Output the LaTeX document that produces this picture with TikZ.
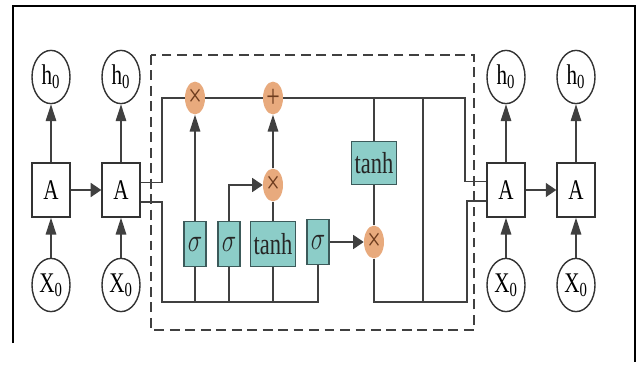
\documentclass[tikz,border=0pt]{standalone}
\usepackage{fontspec}
\setmainfont{Liberation Serif}
\usepackage{graphicx}
\usepackage{xcolor}
\usepackage{tikz}
\usetikzlibrary{shapes.geometric, arrows.meta, calc}
\definecolor{gatefill}{RGB}{140,205,200}
\definecolor{gateline}{RGB}{60,90,90}
\definecolor{opfill}{RGB}{232,170,125}
\definecolor{optext}{RGB}{110,60,30}
\newcommand{\tallt}[1]{\scalebox{1}[1.35]{#1}}
\tikzset{
  cell/.style={rectangle, draw=black!80, fill=white, line width=1pt, minimum width=0.95cm, minimum height=1.35cm, inner sep=0pt, font=\fontsize{15}{17}\selectfont},
  state/.style={ellipse, draw=black!80, line width=1pt, minimum width=0.95cm, minimum height=1.33cm, inner sep=0pt, font=\fontsize{15}{17}\selectfont},
  gate/.style={rectangle, draw=gateline, fill=gatefill, line width=1pt, minimum width=0.55cm, minimum height=1.12cm, inner sep=1pt, font=\fontsize{16}{18}\selectfont, text=black!85},
  op/.style={ellipse, fill=opfill, minimum width=0.5cm, minimum height=0.82cm, inner sep=0pt, font=\fontsize{17}{19}\selectfont, text=optext},
  wire/.style={draw=black!75, line width=1pt},
  varrow/.style={wire, -{Triangle[length=12pt,width=7.5pt]}},
  harrow/.style={wire, -{Triangle[length=7.5pt,width=10pt]}}
}

\begin{document}
\begin{tikzpicture}[x=0.025cm, y=-0.025cm]
\useasboundingbox (0,0) rectangle (638,374);
% outer frame
\draw[line width=1.4pt] (13,343) -- (13,6) -- (635,6) -- (635,362);
% dashed cell border
\draw[black!75, line width=1pt, dash pattern=on 7pt off 4pt] (151,55) rectangle (474,330);

% Columns: unrolled steps
\node[state] (h1) at (51,77) {\tallt{h\textsubscript{0}}};
\node[cell]  (A1) at (51,190) {\tallt{A}};
\node[state] (x1) at (51,285) {\tallt{X\textsubscript{0}}};
\node[state] (h2) at (121,77) {\tallt{h\textsubscript{0}}};
\node[cell]  (A2) at (121,190) {\tallt{A}};
\node[state] (x2) at (121,285) {\tallt{X\textsubscript{0}}};
\node[state] (h3) at (506,77) {\tallt{h\textsubscript{0}}};
\node[cell]  (A3) at (506,190) {\tallt{A}};
\node[state] (x3) at (506,285) {\tallt{X\textsubscript{0}}};
\node[state] (h4) at (576,77) {\tallt{h\textsubscript{0}}};
\node[cell]  (A4) at (576,190) {\tallt{A}};
\node[state] (x4) at (576,285) {\tallt{X\textsubscript{0}}};

\foreach \i in {1,2,3,4} {
  \draw[varrow] (A\i) -- (h\i);
  \draw[varrow] (x\i) -- (A\i);
}
\draw[harrow] (A1) -- (A2);
\draw[harrow] (A3) -- (A4);

% Inside the cell: gates and operations
\node[op] (mulf) at (195,98) {\tallt{×}};
\node[op] (add)  at (273,98) {\tallt{+}};
\node[op] (muli) at (273,185) {\tallt{×}};
\node[op] (mulo) at (374,242) {\tallt{×}};
\node[gate] (sg1) at (195,244) {\tallt{$\sigma$}};
\node[gate] (sg2) at (229,244) {\tallt{$\sigma$}};
\node[gate, minimum width=1.12cm] (tanhi) at (273,244) {\tallt{tanh}};
\node[gate] (sg3) at (318,242) {\tallt{$\sigma$}};
\node[gate, minimum width=1.12cm, minimum height=1.08cm] (tanho) at (374,163) {\tallt{tanh}};

% corners of the cell wiring
\coordinate (a2o1) at ($(A2.north east)!0.37!(A2.south east)$);
\coordinate (a2o2) at ($(A2.north east)!0.72!(A2.south east)$);
\coordinate (a3i1) at ($(A3.north west)!0.35!(A3.south west)$);
\coordinate (a3i2) at ($(A3.north west)!0.70!(A3.south west)$);
\coordinate (tl) at (162,98);
\coordinate (tr) at (465,98);
\coordinate (bl) at (162,302);
\coordinate (br) at (467,302);
\coordinate (vt) at (423,98);

% cell state line
\draw[wire] (a2o1) -| (tl) -- (mulf);
\draw[wire] (mulf) -- (add);
\draw[wire] (add) -- (tr) |- (a3i1);
\draw[wire] (tanho) -- (tanho |- tr);
\draw[wire] (vt) -- (vt |- bl);

% hidden / input line
\draw[wire] (a2o2) -| (bl) -- (sg3 |- bl) -- (sg3);
\foreach \g in {sg1,sg2,tanhi}
  \draw[wire] (\g) -- (\g |- bl);
\draw[wire] (mulo) -- (mulo |- bl) -- (br) |- (a3i2);
\draw[wire] (tanho) -- (mulo);

% gate arrows
\draw[varrow] (sg1) -- (mulf);
\draw[harrow] (sg2) |- (muli);
\draw[wire] (tanhi) -- (muli);
\draw[varrow] (muli) -- (add);
\draw[harrow] (sg3) -- (mulo);
\end{tikzpicture}
\end{document}
